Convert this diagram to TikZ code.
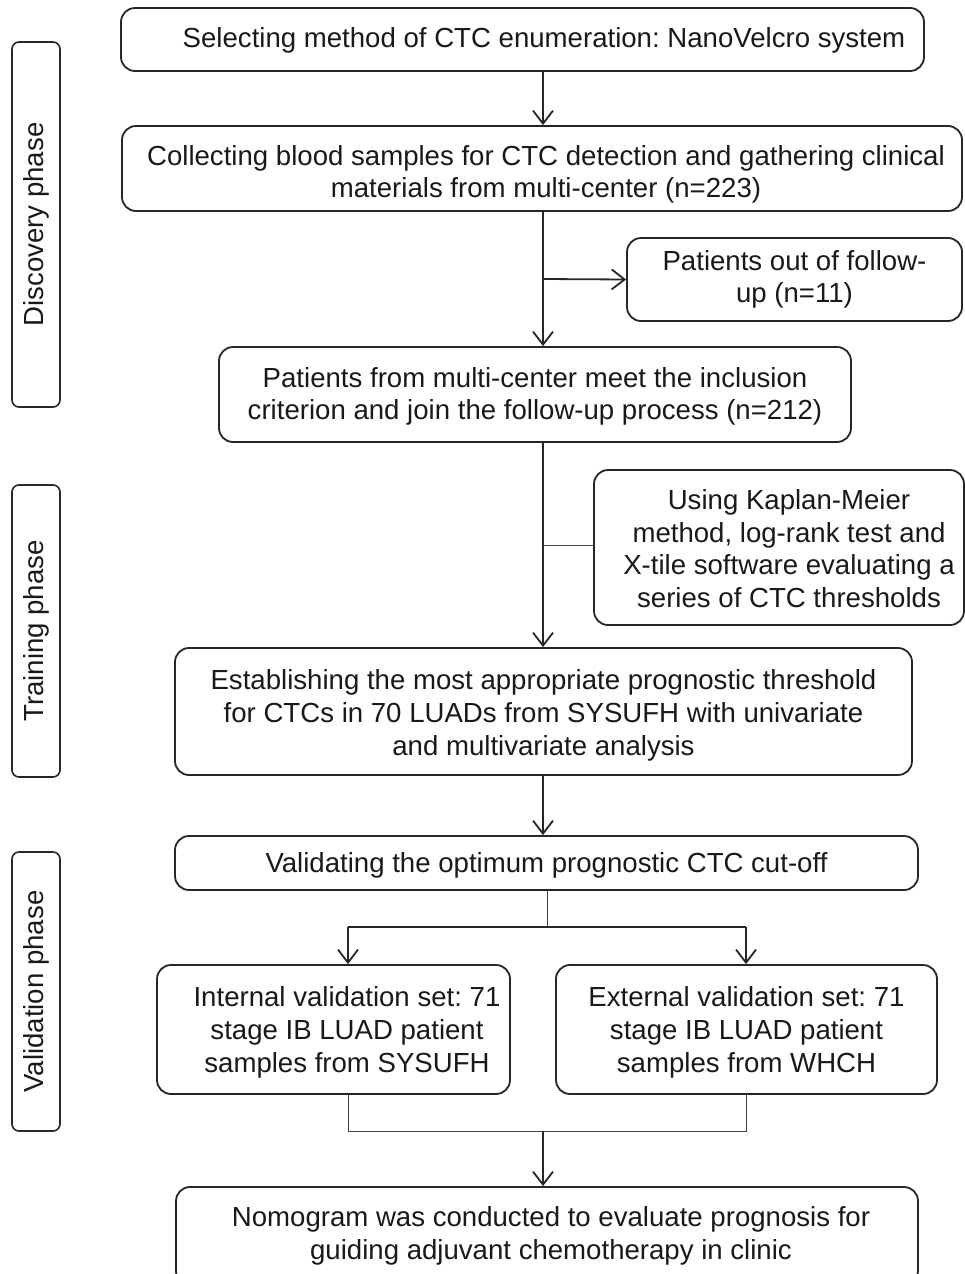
\documentclass[tikz,border=0pt]{standalone}
\usepackage{fontspec}
\setmainfont{Liberation Sans}
\usetikzlibrary{arrows.meta}
\frenchspacing
\newcommand{\upstrut}[1]{\rule{0pt}{#1}}
\newcommand{\rs}[1]{\hspace*{#1}}
\begin{document}
\begin{tikzpicture}[x=1pt,y=-1pt,
  box/.style={draw=black!85, line width=1.8pt, rounded corners=14pt, align=center, inner sep=0pt,
    font=\fontsize{27.6}{32.7}\selectfont, text=black!90},
  phasebox/.style={draw=black!85, line width=1.6pt, rounded corners=7pt, inner sep=0pt, rotate=90,
    font=\fontsize{27.6}{30}\selectfont, text=black!90},
  conn/.style={draw=black!85, line width=1.8pt},
  thin/.style={draw=black!75, line width=1pt},
  arr/.style={conn, -{Straight Barb[length=13pt,width=20pt,line width=1.8pt]}}
]
\useasboundingbox (0,0) rectangle (964,1274);
% phase boxes
\node[phasebox, minimum width=365pt, minimum height=48pt] (ph1) at (36,224.5) {Discovery phase};
\node[phasebox, minimum width=292pt, minimum height=48pt] (ph2) at (36,631) {Training phase};
\node[phasebox, minimum width=279pt, minimum height=48pt] (ph3) at (36,991.5) {Validation phase};
% main boxes
\node[box, minimum width=803pt, minimum height=63pt] (b1) at (522.5,39.5) {\rs{43pt}\upstrut{22pt}Selecting method of CTC enumeration: NanoVelcro system};
\node[box, minimum width=840pt, minimum height=85pt] (b2) at (542,168.5) {\rs{8pt}\upstrut{32pt}Collecting blood samples for CTC detection and gathering clinical\\\rs{8pt}materials from multi-center (n=223)};
\node[box, minimum width=335pt, minimum height=83pt] (b3) at (794.5,279.5) {Patients out of follow-\\up (n=11)};
\node[box, minimum width=632pt, minimum height=95pt] (b4) at (535,394.5) {\upstrut{24pt}Patients from multi-center meet the inclusion\\criterion and join the follow-up process (n=212)};
\node[box, minimum width=370pt, minimum height=155pt] (b5) at (779,547.5) {\rs{20pt}\upstrut{22pt}Using Kaplan-Meier\\\rs{20pt}method, log-rank test and\\\rs{20pt}X-tile software evaluating a\\\rs{20pt}series of CTC thresholds};
\node[box, minimum width=737pt, minimum height=127pt] (b6) at (543.5,711.5) {\upstrut{28pt}Establishing the most appropriate prognostic threshold\\for CTCs in 70 LUADs from SYSUFH with univariate\\and multivariate analysis};
\node[box, minimum width=743pt, minimum height=54pt] (b7) at (546.5,863) {\upstrut{24pt}Validating the optimum prognostic CTC cut-off};
\node[box, minimum width=353pt, minimum height=129pt] (b8) at (333.5,1029.5) {\rs{27pt}\upstrut{26pt}Internal validation set: 71\\\rs{27pt}stage IB LUAD patient\\\rs{27pt}samples from SYSUFH};
\node[box, minimum width=381pt, minimum height=129pt] (b9) at (746.5,1029.5) {\upstrut{26pt}External validation set: 71\\stage IB LUAD patient\\samples from WHCH};
\node[box, minimum width=742pt, minimum height=98pt] (b10) at (547,1236) {\rs{8pt}Nomogram was conducted to evaluate prognosis for\\\rs{8pt}guiding adjuvant chemotherapy in clinic};
% connectors
\coordinate (j1) at (543,279);
\coordinate (j2) at (543,545);
\coordinate (s1) at (547,927);
\coordinate (s1l) at (348,927);
\coordinate (s1r) at (746,927);
\coordinate (m1) at (543,1131);
\coordinate (m1l) at (348,1131);
\coordinate (m1r) at (746,1131);
\draw[arr] (b1.south -| 543,0) -- (b2.north -| 543,0);
\draw[arr] (b2.south -| 543,0) -- (b4.north -| 543,0);
\draw[arr] (j1) -- (b3.west);
\draw[arr] (b4.south -| 543,0) -- (b6.north -| 543,0);
\draw[thin] (j2) -- (b5.west |- j2);
\draw[arr] (b6.south -| 543,0) -- (b7.north -| 543,0);
\draw[thin] (b7.south -| s1) -- (s1);
\draw[conn] (s1l) -- (s1r);
\draw[arr] (s1l) -- (b8.north -| s1l);
\draw[arr] (s1r) -- (b9.north -| s1r);
\draw[thin] (b8.south -| m1l) -- (m1l) -- (m1r) -- (b9.south -| m1r);
\draw[arr] (m1) -- (b10.north -| m1);
\end{tikzpicture}
\end{document}
